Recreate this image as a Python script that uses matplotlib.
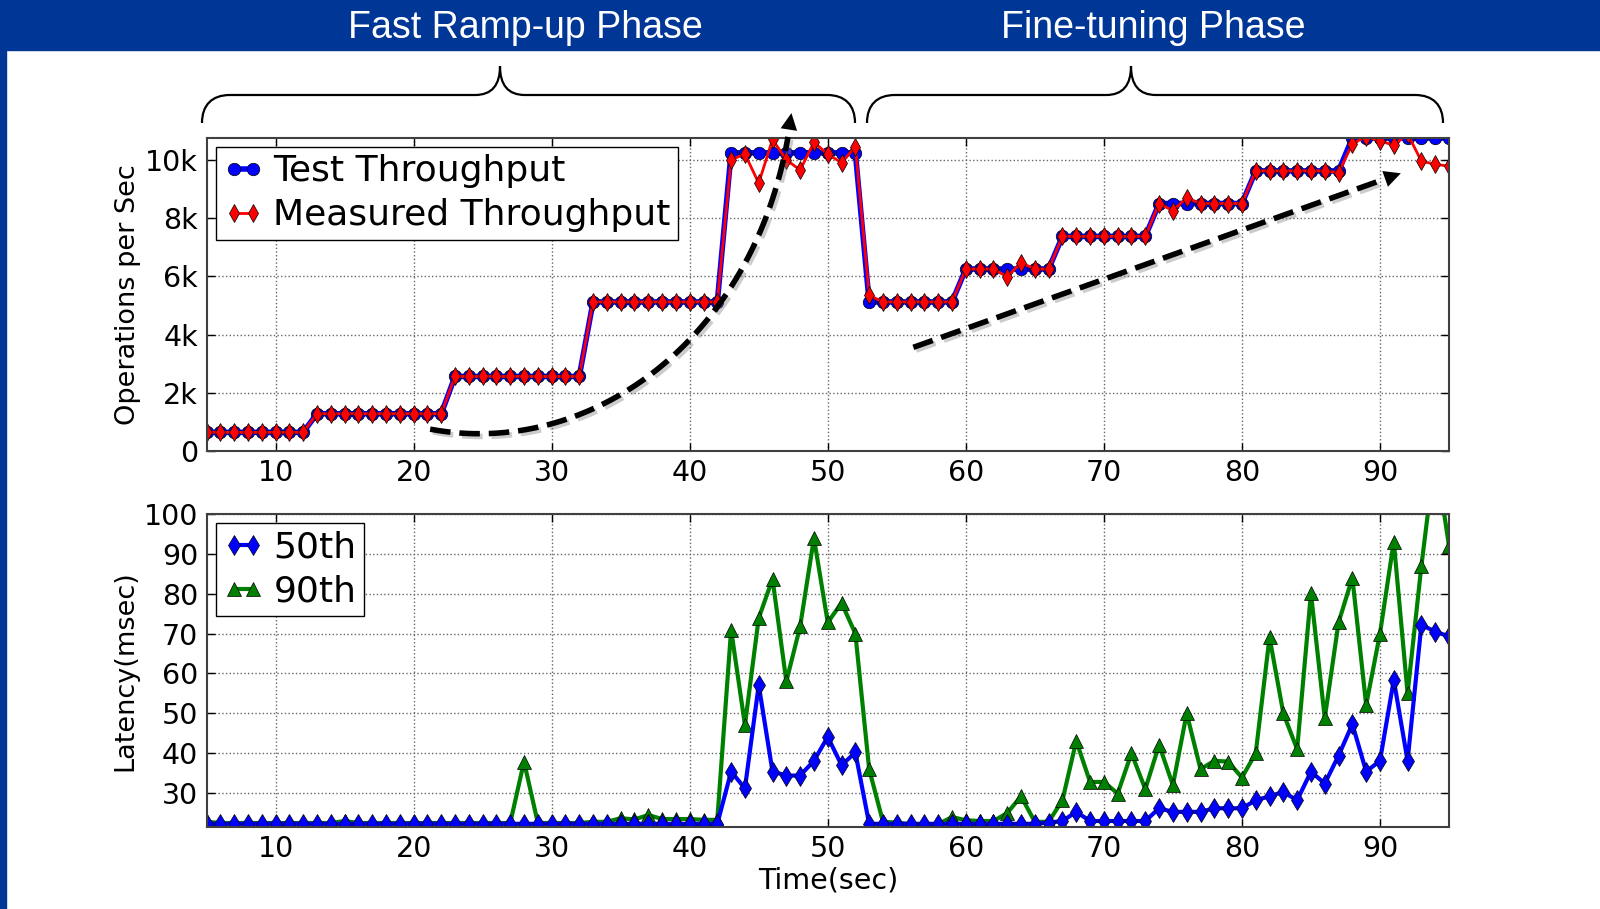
import numpy as np
import matplotlib.pyplot as plt
from matplotlib.path import Path
from matplotlib.patches import PathPatch, Rectangle
import matplotlib.patheffects as pe
from matplotlib.ticker import FuncFormatter

# time axis (one sample per second)
seconds = np.arange(5, 96)

test_tput = [640] * 8 + [1280] * 10 + [2560] * 10 + [5120] * 10 + [10240] * 10 \
    + [5120] * 7 + [6250] * 7 + [7370] * 7 + [8500] * 7 + [9620] * 7 + [10750] * 8

measured_tput = [640] * 8 + [1280] * 10 + [2560] * 10 + [5120] * 10 \
    + [10000, 10200, 9200, 10700, 10000, 9650, 10600, 10200, 9900, 10450] \
    + [5350, 5120, 5120, 5120, 5120, 5120, 5120] \
    + [6250, 6250, 6250, 5980, 6470, 6250, 6250] \
    + [7370] * 7 \
    + [8500, 8250, 8700, 8500, 8500, 8500, 8500] \
    + [9620, 9620, 9620, 9620, 9620, 9620, 9560] \
    + [10550, 10800, 10650, 10500, 10900, 9950, 9850, 9780]

lat_50th = [22.3] * 38 \
    + [35.4, 31.2, 57.1, 35.4, 34.4, 34.4, 38.1, 44.1, 37.0, 40.2] \
    + [22.3] * 13 + [22.6] \
    + [23.0, 25.3, 23.0, 23.0, 23.0, 23.0, 23.0, 26.2, 25.3, 25.3,
       25.3, 26.2, 26.2, 26.2, 28.2, 29.2, 30.3, 28.2, 35.4, 32.4,
       39.4, 47.3, 35.4, 38.1, 58.4, 38.1, 72.2, 70.5, 69.3]

lat_90th = [22.8] + [22.5] * 9 + [23.0] + [22.5] * 12 + [37.9] + [22.5] * 4 \
    + [22.8, 22.8, 23.7, 23.4, 24.5, 23.5, 23.5, 23.5, 23.3, 23.3] \
    + [71.0, 47.1, 73.9, 83.7, 58.0, 71.8, 94.0, 72.8, 77.7, 70.0] \
    + [36.0, 22.8, 22.6, 22.2, 22.2, 22.2, 24.0, 23.2, 23.0, 23.0,
       25.0, 29.2, 22.8, 22.8] \
    + [28.2, 43.1, 32.8, 32.8, 29.9, 40.0, 31.0, 42.1, 32.0, 50.0,
       36.0, 38.1, 37.9, 33.9, 40.0, 69.1, 50.0, 41.0, 80.2, 48.8,
       72.8, 84.0, 52.1, 70.0, 93.1, 55.0, 87.0, 115.0, 92.0]

phase_names = ['Fast Ramp-up Phase', 'Fine-tuning Phase']

W, H = 1600, 909
fig = plt.figure(figsize=(W / 100, H / 100), dpi=100)
slide_blue = '#003797'


def fx(px):
    return px / W


def fy(py):
    return 1 - py / H


# slide header and left strip
fig.patches.append(Rectangle((0, fy(50)), 1, 50 / H, transform=fig.transFigure,
                             color=slide_blue, zorder=0))
fig.patches.append(Rectangle((0, 0), fx(6), fy(50), transform=fig.transFigure,
                             color=slide_blue, zorder=0))
for name, cx in zip(phase_names, [525, 1153]):
    fig.text(fx(cx), fy(38), name, color='white', ha='center', va='baseline',
             fontsize=27, family='Liberation Sans')


def brace(x0, x1, xm, ybot=123, ymid=95, ytop=66, r=28, c=25):
    pts = [(x0, ybot), (x0, ybot - 18), (x0 + 10, ymid), (x0 + r, ymid),
           (xm - c, ymid),
           (xm - 8, ymid), (xm, ymid - 10), (xm, ytop),
           (xm, ymid - 10), (xm + 8, ymid), (xm + c, ymid),
           (x1 - r, ymid),
           (x1 - 10, ymid), (x1, ybot - 18), (x1, ybot)]
    codes = [Path.MOVETO, Path.CURVE4, Path.CURVE4, Path.CURVE4, Path.LINETO,
             Path.CURVE4, Path.CURVE4, Path.CURVE4,
             Path.CURVE4, Path.CURVE4, Path.CURVE4, Path.LINETO,
             Path.CURVE4, Path.CURVE4, Path.CURVE4]
    verts = [(fx(a), fy(b)) for a, b in pts]
    fig.patches.append(PathPatch(Path(verts, codes), transform=fig.transFigure,
                                 fill=False, lw=1.6, color='k'))


brace(202, 855, 500)
brace(867, 1443, 1131)

left, right = 206.5, 1449
ax1 = fig.add_axes([fx(left), fy(451), (right - left) / W, (451 - 138) / H])
ax2 = fig.add_axes([fx(left), fy(827), (right - left) / W, (827 - 514) / H])

ax1.plot(seconds, test_tput, 'b-o', lw=4, ms=9, mec='k', mew=0.5,
         label='Test Throughput')
ax1.plot(seconds, measured_tput, 'r-d', lw=2, ms=9, mec='k', mew=0.5,
         label='Measured Throughput')
ax1.set_ylim(0, 10750)
ax1.set_yticks([0, 2000, 4000, 6000, 8000, 10000])
ax1.yaxis.set_major_formatter(FuncFormatter(lambda v, p: '0' if v == 0 else '%dk' % (v / 1000)))
ax1.set_ylabel('Operations per Sec', fontsize=19.5, labelpad=3)

l90, = ax2.plot(seconds, lat_90th, 'g-^', lw=3, ms=10, mec='k', mew=0.5, label='90th')
l50, = ax2.plot(seconds, lat_50th, 'b-d', lw=3, ms=10, mec='k', mew=0.5, label='50th')
ax2.set_ylim(21.5, 100)
ax2.set_yticks(range(30, 101, 10))
ax2.set_ylabel('Latency(msec)', fontsize=19.5, labelpad=4)
ax2.set_xlabel('Time(sec)', fontsize=20.5, labelpad=2)

for ax in (ax1, ax2):
    ax.set_xlim(5, 95)
    ax.set_xticks(range(10, 91, 10))
    ax.grid(True, ls=':', color='0.4', lw=1)
    ax.tick_params(direction='in', top=True, right=True, length=6, width=1,
                   labelsize=20.5, pad=6)
    for s in ax.spines.values():
        s.set_linewidth(1.5)
        s.set_color('0.25')

leg_kw = dict(loc='upper left', fontsize=26, numpoints=2, handlelength=1.15,
              handletextpad=0.25, borderpad=0.2, labelspacing=0.28,
              borderaxespad=0.25, fancybox=False, framealpha=1, edgecolor='k')
leg1 = ax1.legend(**leg_kw)
leg2 = ax2.legend([l50, l90], ['50th', '90th'], **leg_kw)
for lg in (leg1, leg2):
    lg.get_frame().set_linewidth(1)


# dashed trend arrows on the throughput panel
def bezier(p0, p1, p2, p3, n=200):
    t = np.linspace(0, 1, n)[:, None]
    p = ((1 - t) ** 3 * np.array(p0) + 3 * (1 - t) ** 2 * t * np.array(p1)
         + 3 * (1 - t) * t ** 2 * np.array(p2) + t ** 3 * np.array(p3))
    return p[:, 0], p[:, 1]


shadow = [pe.SimpleLineShadow(offset=(2, -2), shadow_color='0.5', alpha=0.4), pe.Normal()]
bx, by = bezier((21.2, 750), (33, -300), (45.5, 4000), (47.4, 11700))
ax1.plot(bx[:-8], by[:-8], 'k--', lw=4, clip_on=False, zorder=5, path_effects=shadow)
ax1.annotate('', xy=(bx[-1], by[-1]), xytext=(bx[-12], by[-12]), annotation_clip=False,
             arrowprops=dict(arrowstyle='-|>', color='k', lw=0, mutation_scale=30))

# straight arrow: start point and tip in data coordinates
a0 = np.array([56.2, 3560])
a1 = np.array([91.7, 9570])
body_end = a0 + (a1 - a0) * 0.95
ax1.plot([a0[0], body_end[0]], [a0[1], body_end[1]], 'k--', lw=4, zorder=5,
         path_effects=shadow)
head_start = a0 + (a1 - a0) * 0.9
ax1.annotate('', xy=tuple(a1), xytext=tuple(head_start),
             arrowprops=dict(arrowstyle='-|>', color='k', lw=0, mutation_scale=30))

fig.savefig('out.png', dpi=100)
